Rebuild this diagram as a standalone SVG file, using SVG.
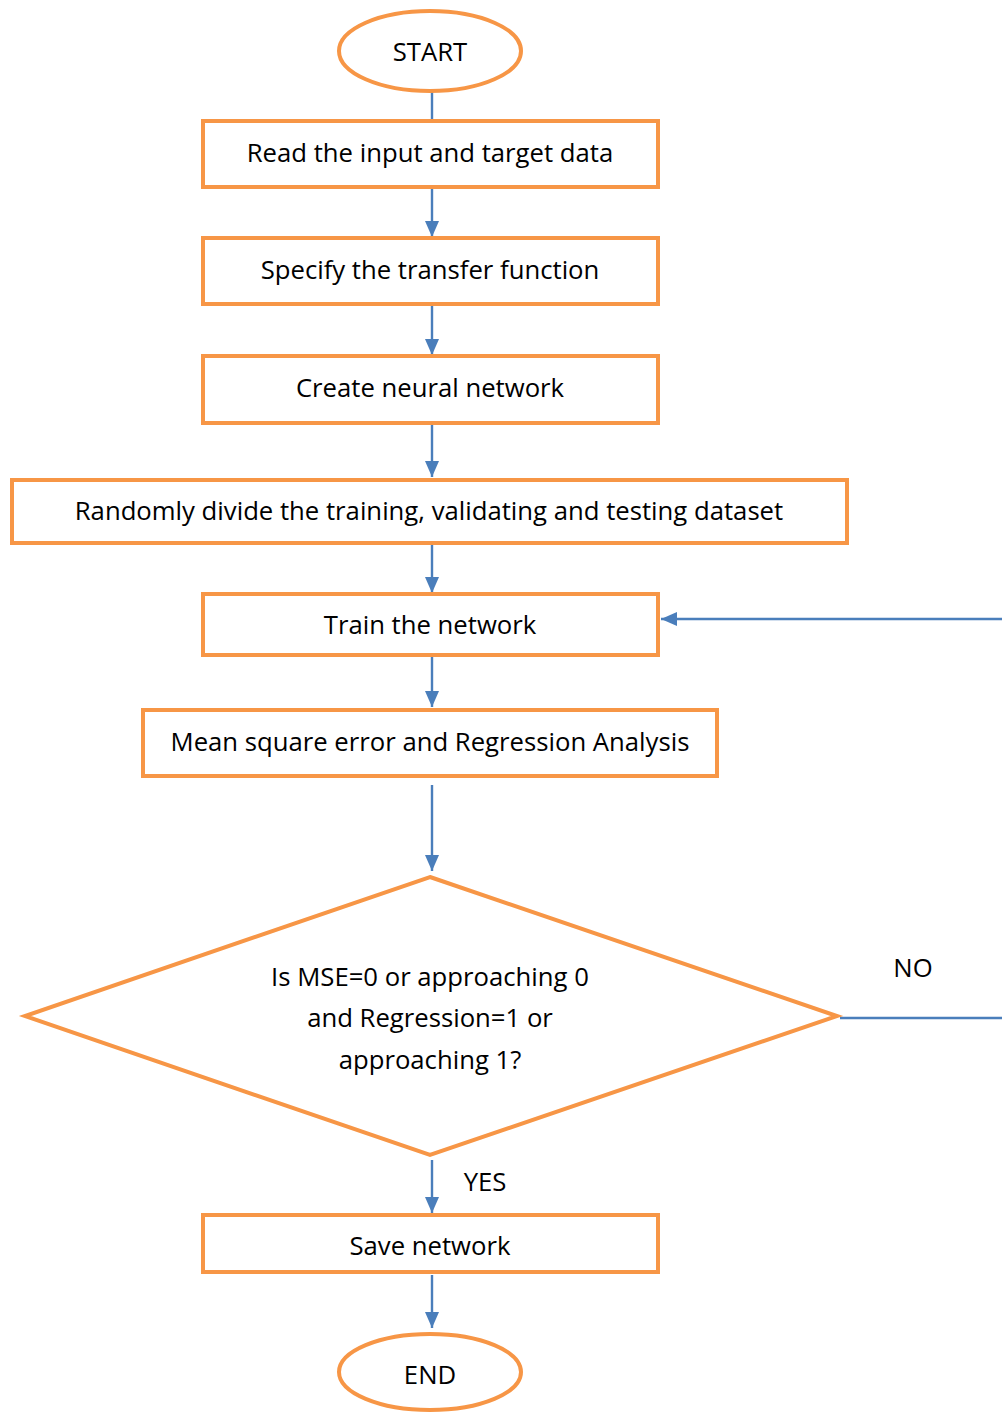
<svg xmlns="http://www.w3.org/2000/svg" width="1002" height="1412" viewBox="0 0 1002 1412">
<style>
.n{fill:#fff;stroke:#F79646;stroke-width:4}
.t{font-family:"Open Sans",Lato,sans-serif;font-size:25.7px;fill:#000;text-anchor:middle}
.c{fill:none;stroke:#4A7EBB;stroke-width:2.4}
</style>
<defs>
<marker id="a" markerWidth="16" markerHeight="14" refX="16" refY="7" orient="auto" markerUnits="userSpaceOnUse" viewBox="0 0 16 14">
<path d="M0,0 L16,7 L0,14 z" fill="#4A7EBB"/>
</marker>
</defs>
<rect width="1002" height="1412" fill="#fff"/>
<g id="connectors">
<path class="c" d="M432 92 V120"/>
<path class="c" d="M432 188 V237" marker-end="url(#a)"/>
<path class="c" d="M432 306 V355" marker-end="url(#a)"/>
<path class="c" d="M432 425 V477" marker-end="url(#a)"/>
<path class="c" d="M432 545 V593" marker-end="url(#a)"/>
<path class="c" d="M432 657 V707" marker-end="url(#a)"/>
<path class="c" d="M432 785 V871" marker-end="url(#a)"/>
<path class="c" d="M840 1018 H1010 V619 H661" marker-end="url(#a)"/>
<path class="c" d="M432 1160 V1213" marker-end="url(#a)"/>
<path class="c" d="M432 1275 V1328" marker-end="url(#a)"/>
</g>
<g id="start"><ellipse class="n" cx="430" cy="51" rx="91" ry="40"/><text class="t" x="430" y="61">START</text></g>
<g id="read"><rect class="n" x="203" y="121" width="455" height="66"/><text class="t" x="430" y="162">Read the input and target data</text></g>
<g id="specify"><rect class="n" x="203" y="238" width="455" height="66"/><text class="t" x="430" y="279">Specify the transfer function</text></g>
<g id="create"><rect class="n" x="203" y="356" width="455" height="67"/><text class="t" x="430" y="397">Create neural network</text></g>
<g id="divide"><rect class="n" x="12" y="480" width="835" height="63"/><text class="t" x="429" y="520">Randomly divide the training, validating and testing dataset</text></g>
<g id="train"><rect class="n" x="203" y="594" width="455" height="61"/><text class="t" x="430" y="634">Train the network</text></g>
<g id="mse"><rect class="n" x="143" y="710" width="574" height="66"/><text class="t" x="430" y="751">Mean square error and Regression Analysis</text></g>
<g id="decision"><polygon class="n" points="430,877 837,1016 430,1155 25,1016"/>
<text class="t" x="430" y="986">Is MSE=0 or approaching 0</text>
<text class="t" x="430" y="1027">and Regression=1 or</text>
<text class="t" x="430" y="1069">approaching 1?</text></g>
<text class="t" x="913" y="977">NO</text>
<g id="save"><rect class="n" x="203" y="1215" width="455" height="57"/><text class="t" x="430" y="1255">Save network</text></g>
<text class="t" x="485" y="1191">YES</text>
<g id="end"><ellipse class="n" cx="430" cy="1372" rx="91" ry="38"/><text class="t" x="430" y="1384">END</text></g>
</svg>
